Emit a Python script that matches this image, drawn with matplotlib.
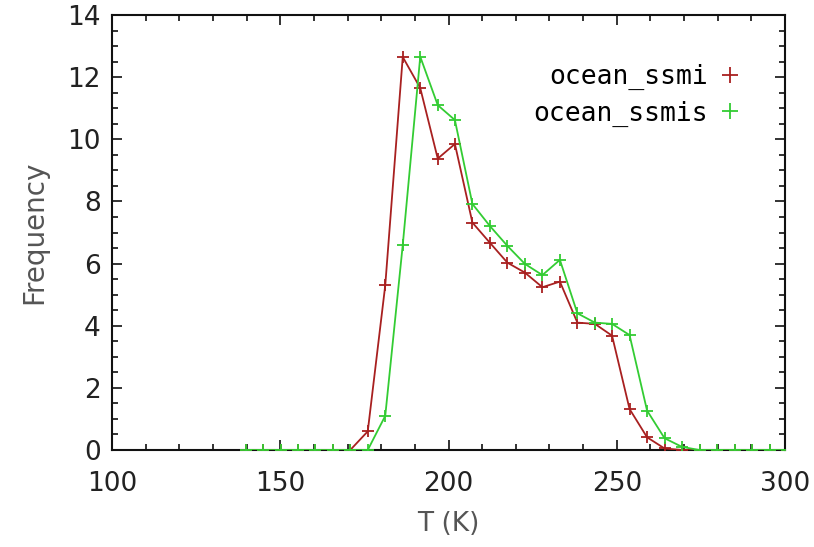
import matplotlib
matplotlib.use('Agg')
import matplotlib.pyplot as plt
from matplotlib.lines import Line2D
from matplotlib.ticker import MultipleLocator

# bin centres (K)
temps = [139.7, 144.9, 150.1, 155.2, 160.4, 165.6, 170.8, 176.0, 181.2, 186.4,
         191.6, 196.8, 201.9, 207.1, 212.3, 217.5, 222.7, 227.9, 233.1, 238.3,
         243.5, 248.6, 253.8, 259.0, 264.2, 269.4, 274.6, 279.8, 285.0, 290.2,
         295.4, 300.5]

ssmi = [0, 0, 0, 0, 0, 0, 0, 0.6, 5.3, 12.65,
        11.65, 9.38, 9.85, 7.32, 6.67, 6.03, 5.71, 5.24, 5.42, 4.10,
        4.06, 3.68, 1.32, 0.41, 0.05, 0, 0, 0, 0, 0,
        0, 0]

ssmis = [0, 0, 0, 0, 0, 0, 0, 0, 1.1, 6.6,
         12.66, 11.1, 10.62, 7.92, 7.21, 6.57, 5.99, 5.63, 6.12, 4.40,
         4.10, 4.06, 3.70, 1.27, 0.38, 0.1, 0, 0, 0, 0,
         0, 0]

labels = ['ocean_ssmi', 'ocean_ssmis']
colors = ['#a82020', '#33cc33']

fig = plt.figure(figsize=(8.14, 5.47), dpi=100)
ax = fig.add_axes([0.1376, 0.1773, 0.8268, 0.7952])

ax.plot(temps, ssmi, color=colors[0], linewidth=1.3, marker='+', markersize=8,
        markeredgewidth=1.3, zorder=3)
ax.plot(temps, ssmis, color=colors[1], linewidth=1.3, marker='+', markersize=8,
        markeredgewidth=1.3, zorder=3.1)

ax.set_xlim(100, 300)
ax.set_ylim(0, 14)
ax.xaxis.set_major_locator(MultipleLocator(50))
ax.xaxis.set_minor_locator(MultipleLocator(10))
ax.yaxis.set_major_locator(MultipleLocator(2))
ax.yaxis.set_minor_locator(MultipleLocator(0.5))

ax.tick_params(which='both', direction='in', top=True, right=True, width=1.2, colors='#111111',
               labelcolor='#222222')
ax.tick_params(which='major', length=7, labelsize=19)
ax.tick_params(which='minor', length=4.5)
ax.tick_params(axis='x', which='major', pad=15)
ax.tick_params(axis='y', which='major', pad=8)
for s in ax.spines.values():
    s.set_linewidth(1.5)
    s.set_color('#111111')

ax.set_xlabel('T (K)', fontsize=19, color='#555555')
ax.set_ylabel('Frequency', fontsize=20, color='#555555')
ax.xaxis.set_label_coords(0.5, -0.14)
ax.yaxis.set_label_coords(-0.095, 0.5)

# legend: text then marker, as in the original
handles = [Line2D([], [], linestyle='none', marker='+', markersize=12, markeredgewidth=1.3, color=c)
           for c in colors]
ax.legend(handles, labels, loc='upper right', bbox_to_anchor=(0.94, 0.888), frameon=False,
          markerfirst=False, handlelength=1.1, handletextpad=0.3, borderpad=0, borderaxespad=0,
          labelspacing=0.4, prop={'family': 'DejaVu Sans Mono', 'size': 19})

fig.savefig('out.png', dpi=100)
